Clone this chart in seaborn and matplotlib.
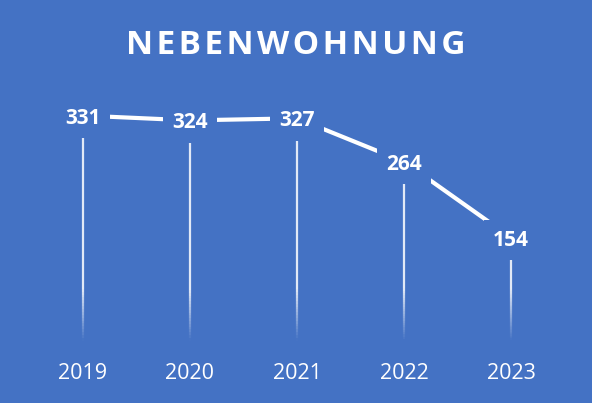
import matplotlib
matplotlib.use('Agg')
import matplotlib.pyplot as plt
import seaborn as sns
import numpy as np
import pandas as pd
from matplotlib.collections import LineCollection

years = ['2019', '2020', '2021', '2022', '2023']
values = [331, 324, 327, 264, 154]
title = 'NEBENWOHNUNG'

bg = '#4472C4'
df = pd.DataFrame({'pos': range(len(years)), 'value': values})

sns.set_style('white')
plt.rcParams['font.family'] = ['Open Sans', 'DejaVu Sans']

fig = plt.figure(figsize=(5.92, 4.03), dpi=100, facecolor=bg)
ax = fig.add_axes([0.0498, 0.1474, 0.9037, 0.6325])
ax.set_facecolor(bg)

# drop lines fading out towards the axis
for x, v in zip(df['pos'], df['value']):
    ys = np.linspace(0, v, 80)
    segs = [[(x, ys[k]), (x, ys[k + 1])] for k in range(len(ys) - 1)]
    mid = (ys[:-1] + ys[1:]) / 2
    alphas = 0.85 * np.clip((mid - 5) / 75, 0, 1)
    cols = [(1, 1, 1, a) for a in alphas]
    ax.add_collection(LineCollection(segs, colors=cols, linewidths=1.6, zorder=2))

sns.lineplot(data=df, x='pos', y='value', color='white', linewidth=3, ax=ax, zorder=3)

for x, v in zip(df['pos'], df['value']):
    ax.text(x, v, str(v), ha='center', va='center_baseline', color='white', fontsize=15,
            fontweight='bold', zorder=4,
            bbox=dict(boxstyle='square,pad=0.45', fc=bg, ec='none'))

ax.set_xlim(-0.5, len(years) - 0.5)
ax.set_ylim(0, 370)
ax.set_xticks(range(len(years)))
ax.set_xticklabels(years, color='white', fontsize=15.5)
ax.set_yticks([])
ax.tick_params(axis='x', length=0, pad=14)
ax.set_xlabel('')
ax.set_ylabel('')
for s in ax.spines.values():
    s.set_visible(False)

fig.text(0.5, 1 - 46 / 403, '\u200a'.join(title), ha='center', va='center',
         color='white', fontsize=24, fontweight='bold')

fig.savefig('out.png', dpi=100, facecolor=bg)
